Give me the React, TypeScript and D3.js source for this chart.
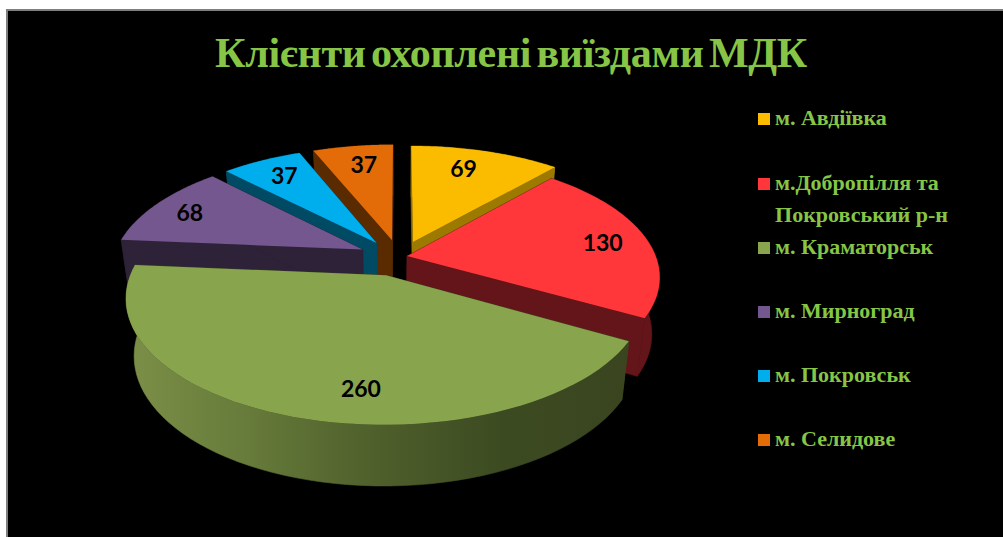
import React from "react";
import * as d3 from "d3";

const titleText = "Клієнти охоплені виїздами МДК";
const categories = ["м. Авдіївка", "м.Добропілля та|Покровський р-н", "м. Краматорськ", "м. Мирноград", "м. Покровськ", "м. Селидове"];
const values = [69, 130, 260, 68, 37, 37];
const topColors = ["#FBBC00", "#FF373A", "#88A44D", "#74578F", "#00AEEE", "#E36C08"];
const wallColors = ["#9C7A00", "#63151A", "#3A4520", "#2E2238", "#004A63", "#5A2B00"];

const W = 1003, H = 537;
const cx = 396, cy = 257, R = 249, Ry = 117, K = 0.17, DEPTH = 56;
const explode = [0.14, 0.045, 0.16, 0.15, 0.145, 0.15];
const shiftX = [5, 0, 2, 0, 0, 3];
const paintOrder = [0, 5, 4, 3, 1, 2];
const labelR = [0.72, 0.72, 0.72, 0.76, 0.8, 0.8];
const labelDx = [-4, 23, 38, -14, 2, 4];
const labelDy = [-5, 1, 17, -1, 0, 2];
const legendRows = [125, 190, 254, 318, 382, 446];

const slices = d3.pie<number>().sort(null).startAngle(0).endAngle(2 * Math.PI)(values);

function project(u: number, v: number, z: number): [number, number] {
  const s = 1 / (1 + K * v);
  return [cx + R * u * s * (1 - 0.03 * z), cy - Ry * v * s + z * DEPTH * (1 - 0.08 * v)];
}

function makePoint(i: number) {
  const mid = (slices[i].startAngle + slices[i].endAngle) / 2;
  const ex = explode[i] * Math.sin(mid), ey = explode[i] * Math.cos(mid);
  return (a: number, r: number, z: number): [number, number] => {
    const q = project(ex + r * Math.sin(a), ey + r * Math.cos(a), z);
    return [q[0] + shiftX[i], q[1]];
  };
}

const line = d3.line();

function arcAngles(a0: number, a1: number) {
  return d3.range(0, 61).map((t) => a0 + ((a1 - a0) * t) / 60);
}

function Slice({ i }: { i: number }) {
  const p = makePoint(i);
  const { startAngle: a0, endAngle: a1 } = slices[i];
  const angles = arcAngles(a0, a1);
  const topPts = [p(0, 0, 0), ...angles.map((a) => p(a, 1, 0))];
  const outer = [...angles.map((a) => p(a, 1, 0)), ...angles.slice().reverse().map((a) => p(a, 1, 1))];
  const wall = (a: number) => [p(0, 0, 0), p(a, 1, 0), p(a, 1, 1), p(0, 0, 1)] as [number, number][];
  const wallFill = wallColors[i];
  const outerFill = i === 2 ? "url(#greenWall)" : wallFill;
  return (
    <g>
      <path d={line(wall(a0))! + "Z"} fill={wallFill} stroke={wallFill} strokeWidth={0.6} />
      <path d={line(wall(a1))! + "Z"} fill={wallFill} stroke={wallFill} strokeWidth={0.6} />
      <path d={line(outer)! + "Z"} fill={outerFill} stroke={outerFill} strokeWidth={0.6} />
      <path d={line(topPts)! + "Z"} fill={topColors[i]} />
    </g>
  );
}

export default function App() {
  return (
    <svg width={W} height={H} style={{ position: "absolute", left: 0, top: 0, display: "block" }}>
      <defs>
        <linearGradient id="greenWall" gradientUnits="userSpaceOnUse" x1={125} x2={630} y1={0} y2={0}>
          <stop offset="0" stopColor="#7C9048" />
          <stop offset="0.25" stopColor="#667A3A" />
          <stop offset="0.5" stopColor="#4E5F2B" />
          <stop offset="0.75" stopColor="#3C4A21" />
          <stop offset="1" stopColor="#3A4520" />
        </linearGradient>
      </defs>
      <rect x={0} y={0} width={W} height={H} fill="#fff" />
      <rect x={7} y={10} width={W} height={H} fill="#000" stroke="#7f7f7f" strokeWidth={2} />
      <text x={511} y={67} textAnchor="middle" fontFamily="'Liberation Serif'" fontWeight={700} fontSize={42} wordSpacing={-5} letterSpacing={-0.3} fill="#86C545">
        {titleText}
      </text>
      {paintOrder.map((i) => (
        <Slice key={i} i={i} />
      ))}
      {values.map((val, i) => {
        const mid = (slices[i].startAngle + slices[i].endAngle) / 2;
        const [x, y] = makePoint(i)(mid, labelR[i], 0);
        return (
          <text key={i} x={x + labelDx[i]} y={y + labelDy[i]} dy="0.35em" textAnchor="middle" fontFamily="Lato" fontWeight={700} fontSize={23} fill="#000">
            {val}
          </text>
        );
      })}
      {categories.map((c, i) => (
        <g key={c}>
          <rect x={758} y={legendRows[i] - 12} width={12} height={12} fill={topColors[i]} />
          {c.split("|").map((t, j) => (
            <text
              key={t}
              x={775}
              y={legendRows[i] + j * 32}
              fontFamily="'Liberation Serif'"
              fontWeight={700}
              fontSize={22}
              fill="#86C545"
              {...(j === 1 ? { textLength: 173, lengthAdjust: "spacingAndGlyphs" } : {})}
            >
              {t}
            </text>
          ))}
        </g>
      ))}
    </svg>
  );
}
